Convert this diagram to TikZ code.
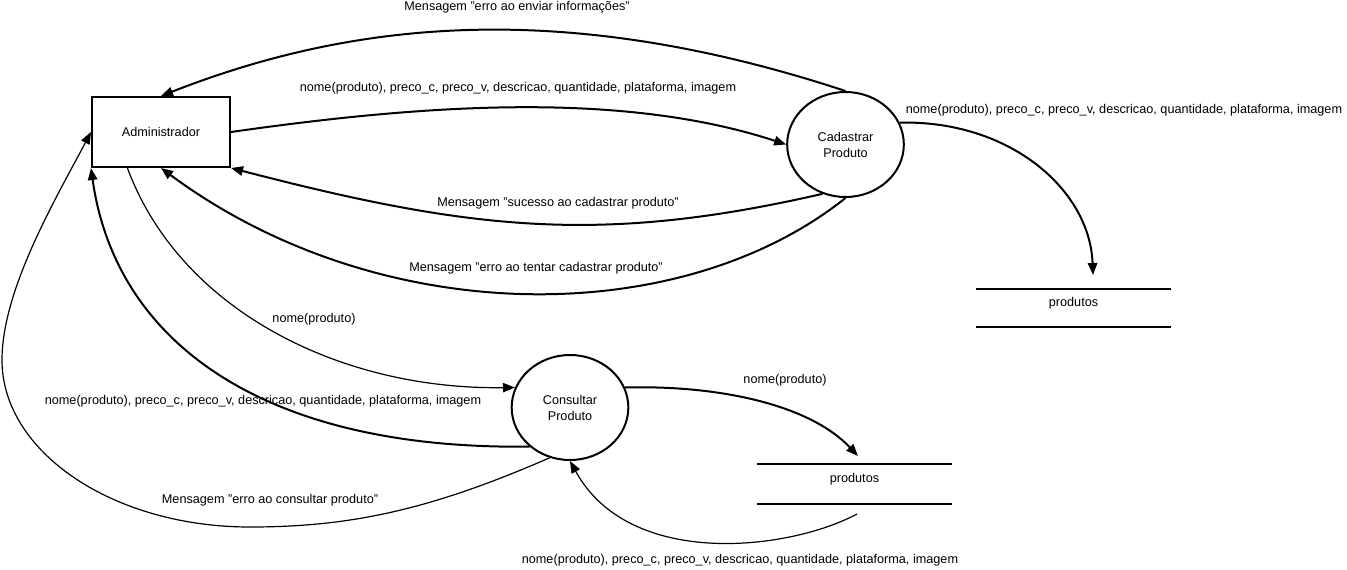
\documentclass[tikz,border=0pt]{standalone}
\usepackage{fontspec}
\setmainfont{Liberation Sans}
\usetikzlibrary{shapes.geometric,arrows.meta}

\begin{document}
\begin{tikzpicture}[x=0.75pt,y=-0.75pt,thick,font=\fontsize{9.5}{12}\selectfont]
\tikzset{entity/.style={draw,line width=1.5pt,minimum width=103.5pt,minimum height=52.5pt,inner sep=0pt},
process/.style={ellipse,draw,line width=1.5pt,minimum width=87.5pt,minimum height=78.75pt,inner sep=0pt,align=center},
store/.style={minimum width=145pt,minimum height=27pt,inner sep=0pt,text depth=8.5pt},
flow/.style={line width=1.5pt,-{Triangle[length=9pt,width=7pt]}},
thinflow/.style={flow,line width=0.9pt},
lbl/.style={inner sep=0pt},
}
\path[use as bounding box] (0,0) rectangle (1347,569);

\node[entity] (adm) at (161,132) {Administrador};
\node[process] (cad) at (845.5,144.5) {Cadastrar\\Produto};
\node[process] (con) at (570,407.5) {Consultar\\Produto};
\node[store] (st1) at (1073.5,308) {produtos};
\node[store,minimum height=28.5pt] (st2) at (854.5,484) {produtos};
\draw[line width=1.5pt] (st1.north west) -- (st1.north east) (st1.south west) -- (st1.south east);
\draw[line width=1.5pt] (st2.north west) -- (st2.north east) (st2.south west) -- (st2.south east);

\coordinate (in1) at (1093,275);
\coordinate (in2) at (858,456);
\coordinate (out2) at (857,514);

\draw[flow] (cad.north) .. controls (560,-3) and (350,22) .. (adm.north);
\draw[flow] (adm.east) .. controls (420,105) and (620,90) .. (cad.west);
\draw[flow] (cad.245) .. controls (600,245) and (470,230) .. (adm.south east);
\draw[flow] (cad.south) .. controls (680,330) and (380,330) .. (adm.south);
\draw[thinflow] (adm.227) .. controls (180,310) and (340,390) .. (con.160);
\draw[flow] (con.224) .. controls (260,450) and (115,340) .. (adm.south west);
\draw[thinflow] (con.248) .. controls (430,510) and (350,527) .. (250,527) .. controls (113,527) and (2,452) .. (2,360) .. controls (2,290) and (55,200) .. (adm.west);
\draw[flow] (cad.22) .. controls (1010,120) and (1090,190) .. (in1);
\draw[flow] (con.20) .. controls (720,385) and (810,405) .. (in2);
\draw[thinflow] (out2) .. controls (790,550) and (630,570) .. (con.south);

\node[lbl] (m1) at (517,7) {Mensagem "erro ao enviar informações"};
\node[lbl] (d1) at (518,88) {nome(produto), preco\_c, preco\_v, descricao, quantidade, plataforma, imagem};
\node[lbl] (m2) at (558,203) {Mensagem "sucesso ao cadastrar produto"};
\node[lbl] (m3) at (536,268) {Mensagem "erro ao tentar cadastrar produto"};
\node[lbl] (d2) at (1124,110) {nome(produto), preco\_c, preco\_v, descricao, quantidade, plataforma, imagem};
\node[lbl] (n1) at (314,319) {nome(produto)};
\node[lbl] (d3) at (263,401) {nome(produto), preco\_c, preco\_v, descricao, quantidade, plataforma, imagem};
\node[lbl] (n2) at (785,380) {nome(produto)};
\node[lbl] (m4) at (270,500) {Mensagem "erro ao consultar produto"};
\node[lbl] (d4) at (740,560) {nome(produto), preco\_c, preco\_v, descricao, quantidade, plataforma, imagem};
\end{tikzpicture}
\end{document}
